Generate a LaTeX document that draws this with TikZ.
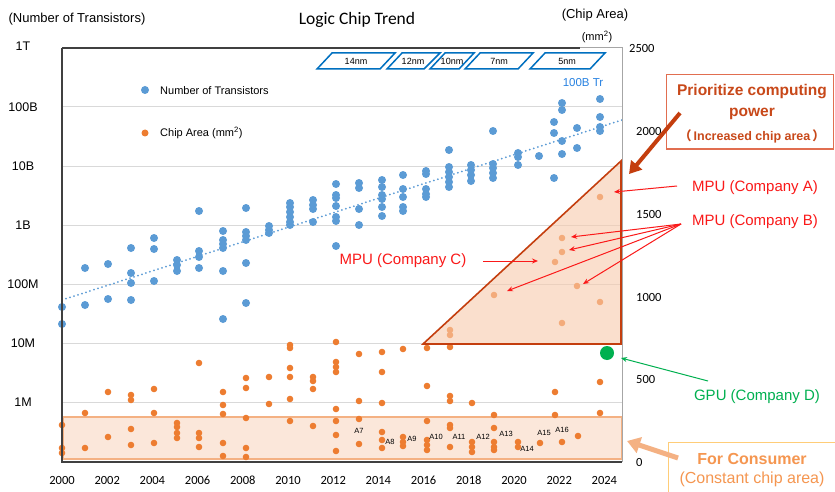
\documentclass[tikz,border=0pt]{standalone}
\usepackage{fontspec}
\setmainfont{Liberation Sans}
\newfontfamily\calib{Carlito}
\newfontfamily\cjk{Noto Sans CJK SC}
\usetikzlibrary{arrows.meta}
\definecolor{tblue}{RGB}{91,155,213}
\definecolor{torange}{RGB}{237,125,49}
\definecolor{tred}{RGB}{250,25,25}
\definecolor{tgreen}{RGB}{0,176,80}
\definecolor{pblue}{RGB}{0,112,192}
\definecolor{lblue}{RGB}{40,130,225}
\definecolor{dkorange}{RGB}{196,62,14}
\definecolor{peach}{RGB}{248,203,173}
\definecolor{lorange}{RGB}{244,177,131}
\definecolor{gridc}{RGB}{217,217,217}
\definecolor{axisc}{RGB}{64,64,64}
\definecolor{boxred}{RGB}{225,110,80}
\definecolor{boxyel}{RGB}{255,205,120}
\definecolor{constxt}{RGB}{245,150,80}
\definecolor{priotxt}{RGB}{200,72,25}
\tikzset{
  txt/.style={inner sep=0pt, anchor=center},
  ylab/.style={txt, font=\fontsize{12.5}{14}\selectfont},
  rlab/.style={inner sep=0pt, anchor=west, font=\calib\fontsize{12.5}{14}\selectfont},
  xlab/.style={txt, font=\calib\fontsize{12.5}{14}\selectfont},
  bdot/.style={fill=tblue},
  odot/.style={fill=torange},
  anote/.style={inner sep=0pt, font=\fontsize{7.5}{9}\selectfont},
  procbox/.style={draw=pblue, line width=1.5pt, line join=miter},
  proclab/.style={txt, font=\fontsize{9}{10}\selectfont},
  redlab/.style={txt, text=tred, font=\fontsize{15}{17}\selectfont},
  redarrow/.style={draw=tred, line width=1pt, -{Stealth[length=6pt,width=5pt]}},
}
\begin{document}
\begin{tikzpicture}[x=1pt,y=-1pt]
\useasboundingbox (0,0) rectangle (835,492);
\fill[white] (0,0) rectangle (835,492);

% grid lines
\foreach \yy in {107,166,225,284,343,402} {
  \draw[gridc, line width=1pt] (62,\yy) -- (622,\yy);
}

% titles
\node[txt, font=\fontsize{13}{15}\selectfont] (ytitle) at (77,19) {(Number of Transistors)};
\node[txt, font=\calib\fontsize{17.5}{20}\selectfont] (title) at (357,20) {Logic Chip Trend};
\node[txt, font=\fontsize{13}{15}\selectfont] (rtitle) at (595,15) {(Chip Area)};
\node[txt, font=\fontsize{11}{13}\selectfont] (runit) at (597,37) {(mm\textsuperscript{2})};

% left axis labels
\node[ylab] (l1T) at (23,46) {1T};
\node[ylab] (l100B) at (23,107) {100B};
\node[ylab] (l10B) at (23,166) {10B};
\node[ylab] (l1B) at (23,225) {1B};
\node[ylab] (l100M) at (23,284) {100M};
\node[ylab] (l10M) at (23,343) {10M};
\node[ylab] (l1M) at (23,402) {1M};

% right axis labels
\node[rlab] (r2500) at (629,48) {2500};
\node[rlab] (r2000) at (636,131) {2000};
\node[rlab] (r1500) at (636,214) {1500};
\node[rlab] (r1000) at (636,297) {1000};
\node[rlab] (r500) at (636,379) {500};
\node[rlab] (r0) at (636,462) {0};

% year labels
\foreach \yr [count=\i from 0] in {2000,2002,...,2024} {
  \node[xlab] (yr\yr) at ({62+\i*2*22.6},480) {\yr};
}

% consumer box (behind dots)
\fill[peach, fill opacity=0.45] (63,417) rectangle (622,459);
\draw[lorange, line width=2pt] (63,417) rectangle (622,459);

% trend line
\draw[tblue, line width=2pt, line cap=round, dash pattern=on 0pt off 4.2pt] (62,300) -- (622,120);

% blue dots
\foreach \px/\py in {62/307,62/324,85/268,85/305,108/264,108/299,131/248,131/273,131/283,131/300,
154/238,154/249,154/281,177/260,177/265,177/271,199/211,199/251,199/257,199/268,
223/231,223/240,223/244,223/248,223/271,223/319,246/208,246/232,246/236,246/240,246/263,246/303,
269/226,269/230,269/233,290/203,290/207,290/212,290/217,290/222,290/225,
313/200,313/205,313/209,313/222,
336/184,336/195,336/198,336/206,336/217,336/221,336/246,
359/183,359/188,359/209,359/225,
382/180,382/187,382/195,382/199,382/207,382/216,
403/175,403/189,403/197,403/207,403/211,
426/171,426/174,426/189,426/194,426/197,
449/150,449/167,449/172,449/177,449/182,449/187,
471/165,471/170,471/175,471/181,
493/131,493/164,493/168,493/173,493/178,
518/153,518/157,518/165,539/156,
554/122,554/133,554/178,562/103,562/110,562/141,562/154,
577/128,577/148,600/99,600/117,600/127,600/131} {
  \fill[bdot] (\px,\py) circle (4pt);
}

% orange dots
\foreach \px/\py in {62/425,62/448,62/453,85/413,85/448,108/392,108/437,
131/395,131/400,131/429,131/445,154/389,154/413,154/443,
177/423,177/427,177/433,177/438,199/363,199/433,199/438,199/447,
223/392,223/405,223/414,223/443,223/456,246/378,246/388,246/418,246/448,246/457,
269/377,269/404,290/345,290/348,290/368,290/377,290/399,290/421,
313/377,313/381,313/389,313/426,
336/342,336/362,336/367,336/372,336/409,336/421,336/435,336/451,
359/354,359/401,359/419,359/444,
382/352,382/372,382/403,382/432,382/440,382/448,
403/349,403/437,403/442,403/446,
427/348,427/386,427/421,427/440,427/445,427/450,
450/330,450/335,450/347,450/396,450/401,450/425,450/428,450/447,
472/403,472/442,472/447,472/452,
494/295,494/415,494/428,494/442,494/447,494/450,
518/442,518/447,540/443,
555/262,562/238,562/252,562/323,555/392,555/415,562/442,
577/286,578/436,600/197,600/302,600/382,600/413} {
  \fill[odot] (\px,\py) circle (3.3pt);
}

% GPU green dot
\fill[tgreen] (607,353) circle (7pt);

% MPU triangle region
\fill[peach, fill opacity=0.6] (423,344) -- (621,161) -- (621,344) -- cycle;
\draw[dkorange, line width=1.6pt, line join=miter] (423,344) -- (621,161) -- (621,344) -- cycle;

% axes frame
\draw[axisc, line width=1.6pt] (62,48) -- (62,462) -- (622,462);
\draw[axisc, line width=1.2pt] (62,48) -- (580,48);
\draw[gray!70, line width=1pt] (580,48) -- (622,48) -- (622,462);

% process node boxes
\draw[procbox] (317,69) -- (332,53) -- (395,53) -- (380,69) -- cycle;
\node[proclab] (p14) at (356,61) {14nm};
\draw[procbox] (387,69) -- (402,53) -- (440,53) -- (424,69) -- cycle;
\node[proclab] (p12) at (413,61) {12nm};
\draw[procbox] (430,69) -- (445,53) -- (474,53) -- (459,69) -- cycle;
\node[proclab] (p10) at (452,61) {10nm};
\draw[procbox] (465,69) -- (480,53) -- (533,53) -- (518,69) -- cycle;
\node[proclab] (p7) at (499,61) {7nm};
\draw[procbox] (530,69) -- (545,53) -- (605,53) -- (590,69) -- cycle;
\node[proclab] (p5) at (567,61) {5nm};

\node[txt, text=lblue, font=\fontsize{11.5}{13}\selectfont] (tr100) at (583,83) {100B Tr};

% legend
\fill[bdot] (145,90) circle (4pt);
\node[inner sep=0pt, anchor=west, font=\fontsize{11}{13}\selectfont] (legT) at (160,91) {Number of Transistors};
\fill[odot] (145,133) circle (3.5pt);
\node[inner sep=0pt, anchor=west, font=\fontsize{11}{13}\selectfont] (legA) at (160,133) {Chip Area (mm\textsuperscript{2})};

% Apple labels
\node[anote] (a7) at (359,431) {A7};
\node[anote] (a8) at (390,442) {A8};
\node[anote] (a9) at (412,439) {A9};
\node[anote] (a10) at (436,437) {A10};
\node[anote] (a11) at (459,437) {A11};
\node[anote] (a12) at (483,437) {A12};
\node[anote] (a13) at (506,434) {A13};
\node[anote] (a14) at (527,449) {A14};
\node[anote] (a15) at (544,433) {A15};
\node[anote] (a16) at (562,430) {A16};

% Prioritize callout
\draw[boxred, line width=1pt] (666,75) rectangle (833,149);
\node[txt, text=priotxt, font=\bfseries\fontsize{15.5}{18}\selectfont] (prio1) at (752,92) {Prioritize computing};
\node[txt, text=priotxt, font=\bfseries\fontsize{15.5}{18}\selectfont] (prio2) at (752,114) {power};
\node[txt, text=priotxt, font=\bfseries\fontsize{12.5}{15}\selectfont] (prio3) at (752,136) {{\cjk （}\,Increased chip area\,{\cjk ）}};
\coordinate (prioS) at (680,113);
\coordinate (prioE) at (629,174);
\draw[dkorange, line width=4pt, -{Triangle[length=12pt,width=14pt]}] (prioS) -- (prioE);

% MPU labels and arrows
\node[redlab] (mpuA) at (755,188) {MPU (Company A)};
\node[redlab] (mpuB) at (755,222) {MPU (Company B)};
\node[redlab] (mpuC) at (403,261) {MPU (Company C)};
\coordinate (mpuAs) at (677,186);
\coordinate (mpuAt) at (614,192);
\draw[redarrow] (mpuAs) -- (mpuAt);
\coordinate (mpuBs) at (681,224);
\coordinate (mpuBt1) at (571,237);
\coordinate (mpuBt2) at (569,250);
\coordinate (mpuBt3) at (507,291);
\coordinate (mpuBt4) at (583,284);
\foreach \t in {mpuBt1,mpuBt2,mpuBt3,mpuBt4} {
  \draw[redarrow] (mpuBs) -- (\t);
}
\coordinate (mpuCs) at (483,261);
\coordinate (mpuCt) at (538,261);
\draw[redarrow] (mpuCs) -- (mpuCt);

% GPU label and arrow
\node[txt, text=tgreen, font=\fontsize{15}{17}\selectfont] (gpuD) at (757,397) {GPU (Company D)};
\coordinate (gpuS) at (708,381);
\coordinate (gpuT) at (621,358);
\draw[tgreen, line width=1pt, -{Stealth[length=6pt,width=5pt]}] (gpuS) -- (gpuT);

% For consumer callout
\draw[boxyel, line width=1pt] (668,442) -- (836,442);
\draw[boxyel, line width=1pt] (668,442) -- (668,493);
\node[txt, text=constxt, font=\bfseries\fontsize{16}{18}\selectfont] (cons1) at (752,459) {For Consumer};
\node[txt, text=constxt, font=\fontsize{16}{18}\selectfont] (cons2) at (752,479) {(Constant chip area)};
\coordinate (consS) at (678,458);
\coordinate (consE) at (627,441);
\draw[lorange, line width=5pt, -{Triangle[length=13pt,width=16pt]}] (consS) -- (consE);
\end{tikzpicture}
\end{document}
